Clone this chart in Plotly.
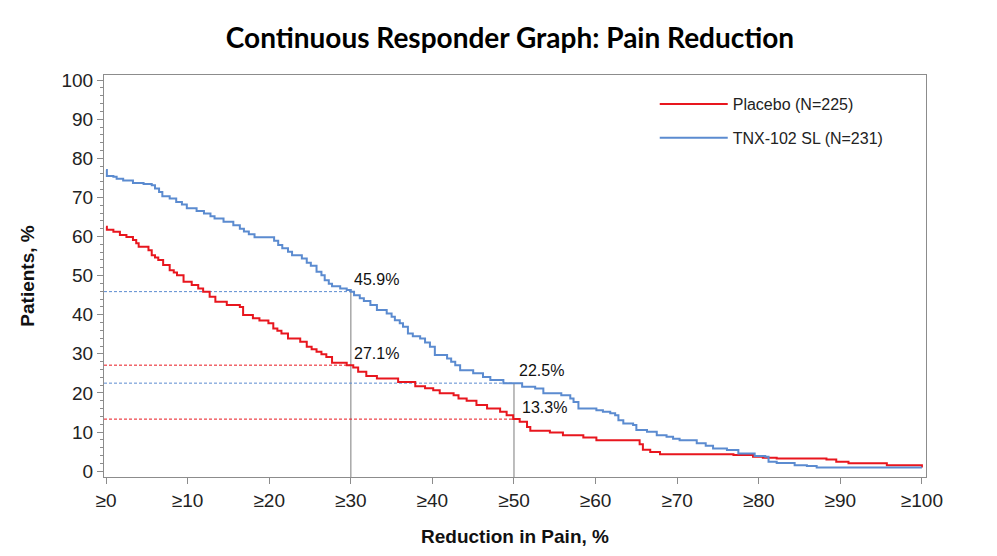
import plotly.graph_objects as go

# ---------------- data ----------------
tnx_x = [0, 0.1, 0.9, 1.3, 2.1, 3.3, 4.6, 5.6, 6.0, 6.5, 6.9, 7.8, 8.6, 9.3, 9.9, 11.1, 12.0, 12.8,
         13.3, 14.4, 15.6, 16.4, 16.9, 17.5, 18.2, 20.6, 21.1, 21.6, 22.3, 22.8, 24.0, 24.6, 25.1,
         25.8, 26.4, 26.8, 27.3, 27.7, 28.7, 29.5, 30.0, 30.4, 31.1, 31.6, 32.4, 33.2, 34.4, 35.0,
         35.4, 36.0, 36.4, 37.0, 37.6, 38.5, 39.1, 39.7, 40.3, 41.8, 42.3, 42.8, 43.4, 45.0, 46.2,
         47.1, 48.7, 51.0, 52.6, 53.6, 55.8, 56.9, 57.3, 57.9, 60.1, 60.9, 61.8, 62.4, 62.8, 63.4,
         64.6, 65.0, 66.3, 67.5, 68.7, 69.5, 70.3, 72.4, 73.5, 74.4, 76.1, 77.5, 79.5, 80.8, 81.2,
         82.2, 84.4, 85.9, 87.1, 100]
tnx_y = [77.0, 75.5, 75.3, 74.8, 74.3, 73.7, 73.4, 73.1, 72.3, 71.4, 70.3, 69.7, 68.8, 68.2, 67.2,
         66.5, 65.9, 65.2, 64.6, 63.8, 62.9, 62.0, 61.3, 60.6, 59.8, 58.9, 57.8, 57.0, 56.1, 55.2,
         54.4, 53.3, 52.5, 51.0, 50.1, 48.8, 47.9, 47.3, 46.7, 46.3, 45.9, 45.0, 44.2, 43.5, 42.5,
         41.2, 40.3, 39.5, 38.6, 37.8, 36.9, 35.2, 34.5, 33.9, 32.9, 31.8, 29.7, 28.8, 28.0, 27.1,
         25.8, 25.0, 24.1, 23.3, 22.5, 21.6, 21.1, 19.9, 19.4, 18.6, 17.7, 16.0, 15.6, 15.2, 14.8,
         14.3, 13.0, 12.2, 11.8, 10.5, 10.1, 9.2, 8.8, 8.3, 7.9, 7.1, 6.5, 5.8, 5.4, 4.5, 3.9, 3.7,
         2.4, 2.1, 1.5, 1.3, 0.9, 0.9]

pbo_x = [0, 0.1, 0.9, 1.7, 2.5, 3.3, 3.7, 4.0, 5.2, 5.6, 6.0, 6.4, 7.0, 7.8, 8.3, 8.7, 9.5, 10.5,
         11.3, 11.9, 12.7, 13.4, 14.8, 16.4, 16.8, 18.0, 18.8, 19.9, 20.5, 21.0, 21.5, 22.3, 23.8,
         24.6, 25.2, 25.8, 26.4, 27.0, 27.7, 29.5, 30.3, 30.9, 31.9, 33.2, 35.8, 37.9, 39.1, 40.1,
         40.9, 42.6, 43.2, 44.2, 45.4, 46.7, 48.3, 49.1, 49.9, 50.7, 51.6, 52.0, 54.4, 56.0, 58.5,
         60.1, 65.4, 65.8, 66.7, 67.9, 76.9, 79.3, 80.5, 82.2, 88.3, 89.5, 91.0, 95.7, 100, 100]
pbo_y = [62.5, 61.7, 61.2, 60.4, 59.9, 59.1, 58.3, 57.4, 56.5, 55.2, 54.6, 54.0, 52.7, 51.4, 50.8,
         50.1, 48.4, 47.6, 46.7, 45.9, 44.6, 43.3, 42.5, 42.0, 39.9, 39.1, 38.5, 37.8, 36.5, 35.9,
         35.2, 33.9, 33.1, 31.8, 31.2, 30.5, 29.9, 29.2, 27.7, 27.1, 26.5, 25.4, 24.3, 23.7, 22.8,
         21.7, 21.2, 20.7, 19.9, 19.4, 18.6, 18.0, 16.9, 16.0, 15.2, 14.3, 13.3, 12.6, 11.3, 10.3,
         9.9, 9.2, 8.6, 7.9, 6.9, 5.5, 4.9, 4.3, 4.1, 3.7, 3.4, 3.2, 3.0, 2.4, 2.0, 1.5, 1.3, 0.9]

thresholds = [30, 50]
tnx_at = [45.9, 22.5]
pbo_at = [27.1, 13.3]

x_tickvals = [0, 10, 20, 30, 40, 50, 60, 70, 80, 90, 100]
x_ticktext = ["≥0", "≥10", "≥20", "≥30", "≥40", "≥50", "≥60", "≥70", "≥80", "≥90", "≥100"]
y_tickvals = [0, 10, 20, 30, 40, 50, 60, 70, 80, 90, 100]

names = ["Placebo (N=225)", "TNX-102 SL (N=231)"]

# ---------------- style ----------------
RED = "#e8161e"
BLUE = "#5b8bd0"
GRAY = "#a8a8a8"
AXIS = "#8c8c8c"
XR = [-0.25, 100.5]
YR = [-1.5, 101.3]
FONT = "Arial, Liberation Sans, sans-serif"

fig = go.Figure()

# reference lines
for t, v in zip(thresholds, tnx_at):
    fig.add_trace(go.Scatter(x=[XR[0], t], y=[v, v], mode="lines", showlegend=False,
                             line=dict(color=BLUE, width=1, dash="3px,2px"), hoverinfo="skip"))
    fig.add_trace(go.Scatter(x=[t, t], y=[YR[0], v], mode="lines", showlegend=False,
                             line=dict(color=GRAY, width=1.5), hoverinfo="skip"))
for t, v in zip(thresholds, pbo_at):
    fig.add_trace(go.Scatter(x=[XR[0], t], y=[v, v], mode="lines", showlegend=False,
                             line=dict(color=RED, width=1, dash="3px,2px"), hoverinfo="skip"))

fig.add_trace(go.Scatter(x=pbo_x, y=pbo_y, mode="lines", name=names[0], legendgroup="a",
                         line=dict(color=RED, width=2, shape="hv")))
fig.add_trace(go.Scatter(x=tnx_x, y=tnx_y, mode="lines", name=names[1], legendgroup="b",
                         line=dict(color=BLUE, width=2, shape="hv")))

# value labels
xs = [1, 3]
for i, (t, v) in enumerate(zip(thresholds, tnx_at)):
    fig.add_annotation(x=t, y=v, text=f"{v}%", showarrow=False, xanchor="left", yanchor="bottom",
                       xshift=xs[i], yshift=2, font=dict(size=16, color="#111", family=FONT))
xs2 = [1, 6]
for i, (t, v) in enumerate(zip(thresholds, pbo_at)):
    fig.add_annotation(x=t, y=v, text=f"{v}%", showarrow=False, xanchor="left", yanchor="bottom",
                       xshift=xs2[i], yshift=1, font=dict(size=16, color="#111", family=FONT))

fig.update_layout(
    width=989, height=548,
    margin=dict(l=96, r=71, t=67, b=79),
    paper_bgcolor="white", plot_bgcolor="white",
    title=dict(text="<b>Continuous Responder Graph: Pain Reduction</b>", x=0.5076, xanchor="center",
               y=0.944, yanchor="middle", font=dict(family="Lato, Open Sans, sans-serif", size=28, color="black")),
    font=dict(family=FONT, color="#222"),
    legend=dict(x=0.67, y=0.97, xanchor="left", yanchor="top", bgcolor="rgba(0,0,0,0)",
                font=dict(size=16, family=FONT, color="#222"), itemwidth=68, tracegroupgap=10,
                traceorder="grouped"),
    showlegend=True,
)
fig.update_xaxes(range=XR, tickvals=x_tickvals, ticktext=x_ticktext, ticks="outside", ticklen=6,
                 tickcolor=AXIS, showline=True, linecolor=AXIS, linewidth=1, mirror=True,
                 showgrid=False, zeroline=False, automargin=False,
                 tickfont=dict(size=19, family=FONT, color="#222"),
                 title=dict(text="<b>Reduction in Pain, %</b>", font=dict(size=19, family=FONT, color="#111"),
                            standoff=19))
fig.update_yaxes(range=YR, tickvals=y_tickvals, ticks="outside", ticklen=6, tickcolor=AXIS,
                 minor=dict(dtick=2, ticks="outside", ticklen=3, tickcolor=AXIS, showgrid=False),
                 showline=True, linecolor=AXIS, linewidth=1, mirror=True, showgrid=False, zeroline=False,
                 automargin=False,
                 tickfont=dict(size=19, family=FONT, color="#222"),
                 title=dict(text="<b>Patients, %</b>", font=dict(size=19, family=FONT, color="#111"),
                            standoff=21))

fig.write_html("out.html")
